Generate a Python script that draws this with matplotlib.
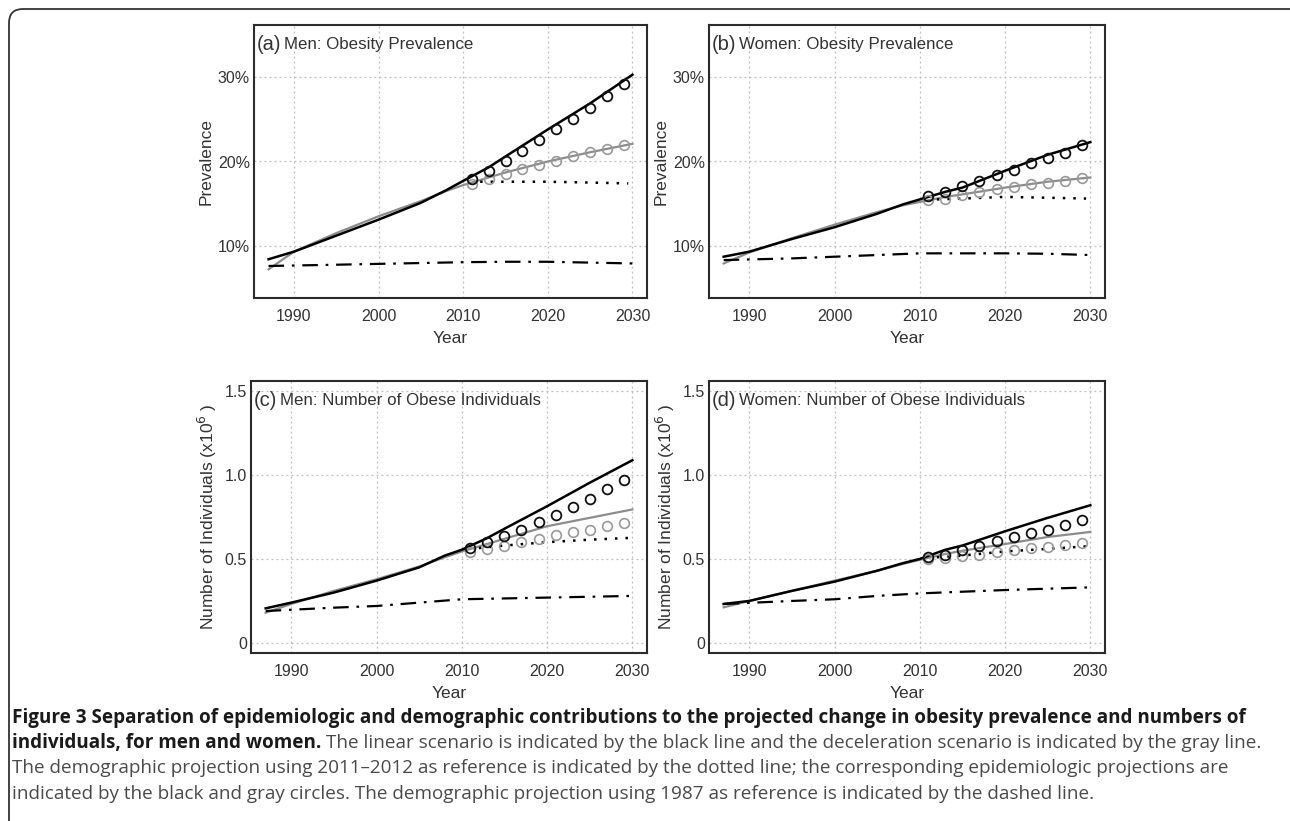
import matplotlib
matplotlib.use("Agg")
import matplotlib.pyplot as plt
from matplotlib.patches import FancyBboxPatch
from matplotlib.transforms import IdentityTransform
from matplotlib.ticker import FixedLocator, FuncFormatter

plt.rcParams['font.family'] = ['Liberation Sans', 'DejaVu Sans']

# ---- data ----
line_years = [1987, 1990, 1995, 2000, 2005, 2008, 2010, 2013, 2015, 2020, 2025, 2030]
circle_years = [2011, 2013, 2015, 2017, 2019, 2021, 2023, 2025, 2027, 2029]
dot_years = [2012, 2015, 2020, 2025, 2029.5]
dash_years = [1987, 1995, 2000, 2005, 2010, 2015, 2020, 2025, 2030]

# (a) men prevalence (%)
a_linear = [8.4, 9.3, 11.2, 13.1, 15.1, 16.6, 17.7, 19.3, 20.6, 23.8, 26.9, 30.3]
a_decel = [7.2, 9.3, 11.5, 13.5, 15.3, 16.5, 17.2, 18.1, 18.7, 20.0, 21.1, 22.1]
a_circ_lin = [17.9, 18.9, 20.0, 21.2, 22.5, 23.8, 25.0, 26.4, 27.8, 29.2]
a_circ_dec = [17.3, 17.9, 18.5, 19.1, 19.6, 20.1, 20.6, 21.1, 21.5, 22.0]
a_dotted = [17.6, 17.6, 17.6, 17.5, 17.4]
a_dashed = [7.6, 7.75, 7.85, 7.95, 8.05, 8.1, 8.1, 8.0, 7.9]

# (b) women prevalence (%)
b_linear = [8.7, 9.3, 10.8, 12.2, 13.8, 14.9, 15.5, 16.4, 16.9, 18.9, 20.8, 22.3]
b_decel = [7.9, 9.2, 10.9, 12.5, 14.0, 14.8, 15.2, 15.8, 16.1, 16.9, 17.6, 18.1]
b_circ_lin = [15.9, 16.4, 17.1, 17.7, 18.4, 19.0, 19.8, 20.4, 21.0, 21.9]
b_circ_dec = [15.4, 15.6, 16.0, 16.4, 16.7, 17.0, 17.3, 17.5, 17.7, 18.0]
b_dotted = [15.5, 15.6, 15.8, 15.7, 15.6]
b_dashed = [8.3, 8.5, 8.7, 8.9, 9.1, 9.1, 9.1, 9.05, 8.9]

# (c) men number of obese individuals (x10^6)
c_linear = [0.206, 0.24, 0.30, 0.371, 0.45, 0.52, 0.555, 0.625, 0.68, 0.814, 0.954, 1.088]
c_decel = [0.18, 0.232, 0.31, 0.379, 0.455, 0.51, 0.545, 0.59, 0.62, 0.695, 0.745, 0.795]
c_circ_lin = [0.565, 0.60, 0.635, 0.675, 0.72, 0.76, 0.812, 0.86, 0.914, 0.968]
c_circ_dec = [0.539, 0.561, 0.579, 0.599, 0.619, 0.641, 0.659, 0.675, 0.695, 0.713]
c_dotted = [0.565, 0.58, 0.60, 0.615, 0.625]
c_dashed = [0.19, 0.21, 0.22, 0.24, 0.26, 0.265, 0.27, 0.275, 0.28]

# (d) women number of obese individuals (x10^6)
d_linear = [0.232, 0.25, 0.31, 0.365, 0.43, 0.475, 0.50, 0.555, 0.58, 0.665, 0.745, 0.82]
d_decel = [0.212, 0.25, 0.31, 0.371, 0.43, 0.47, 0.495, 0.53, 0.549, 0.589, 0.631, 0.661]
d_circ_lin = [0.511, 0.525, 0.555, 0.579, 0.605, 0.629, 0.655, 0.675, 0.705, 0.731]
d_circ_dec = [0.499, 0.505, 0.519, 0.525, 0.539, 0.555, 0.565, 0.571, 0.585, 0.595]
d_dotted = [0.51, 0.52, 0.545, 0.56, 0.575]
d_dashed = [0.232, 0.25, 0.26, 0.28, 0.295, 0.305, 0.315, 0.323, 0.331]

panels = [
    ("(a)", "Men: Obesity Prevalence", a_linear, a_decel, a_circ_lin, a_circ_dec, a_dotted, a_dashed),
    ("(b)", "Women: Obesity Prevalence", b_linear, b_decel, b_circ_lin, b_circ_dec, b_dotted, b_dashed),
    ("(c)", "Men: Number of Obese Individuals", c_linear, c_decel, c_circ_lin, c_circ_dec, c_dotted, c_dashed),
    ("(d)", "Women: Number of Obese Individuals", d_linear, d_decel, d_circ_lin, d_circ_dec, d_dotted, d_dashed),
]

# axes boxes in pixels (left, top, right, bottom)
W, H = 1290, 821
boxes = [(254, 25, 647, 298), (709, 25, 1105, 298),
         (251, 381, 647, 653), (709, 381, 1105, 653)]

fig = plt.figure(figsize=(W / 100, H / 100), dpi=100)
fig.patch.set_facecolor('white')

txt = '#333333'
gray = '#8c8c8c'

for i, (box, p) in enumerate(zip(boxes, panels)):
    l, t, r, b = box
    ax = fig.add_axes([l / W, 1 - b / H, (r - l) / W, (b - t) / H])
    tag, title, lin, dec, clin, cdec, dotv, dashv = p

    ax.plot(line_years, dec, color=gray, lw=1.6, zorder=3)
    ax.plot(line_years, lin, color='black', lw=1.8, zorder=4)
    ax.plot(dot_years, dotv, color='black', lw=1.8, linestyle=(0, (1.0, 3.2)), zorder=3)
    ax.plot(dash_years, dashv, color='black', lw=1.6, linestyle=(0, (7, 3.5, 1.2, 3.5)), zorder=3)
    ax.plot(circle_years, cdec, linestyle='none', marker='o', ms=7, mfc='none',
            mec='#999999', mew=1.2, zorder=5)
    ax.plot(circle_years, clin, linestyle='none', marker='o', ms=7, mfc='none',
            mec='#111111', mew=1.3, zorder=6)

    ax.set_xlim(1985.28, 2031.72)
    ax.xaxis.set_major_locator(FixedLocator([1990, 2000, 2010, 2020, 2030]))
    if i < 2:
        ax.set_ylim(3.8, 36.2)
        ax.yaxis.set_major_locator(FixedLocator([10, 20, 30]))
        ax.yaxis.set_major_formatter(FuncFormatter(lambda v, pos: f"{int(v)}%"))
        ax.set_ylabel("Prevalence", fontsize=12.5, color=txt, labelpad=3)
    else:
        ax.set_ylim(-0.06, 1.56)
        ax.yaxis.set_major_locator(FixedLocator([0, 0.5, 1.0, 1.5]))
        ax.yaxis.set_major_formatter(FuncFormatter(lambda v, pos: "0" if v == 0 else f"{v:.1f}"))
        ax.set_ylabel(r"Number of Individuals (x10$^{6}$ )", fontsize=12.5, color=txt, labelpad=4)
    ax.set_xlabel("Year", fontsize=12.5, color=txt, labelpad=5)

    ax.grid(True, color='#bdbdbd', linestyle=(0, (1.5, 2.5)), lw=0.9)
    ax.set_axisbelow(True)
    ax.tick_params(length=0, labelsize=11.5, labelcolor=txt)
    ax.tick_params(axis='x', pad=8)
    ax.tick_params(axis='y', pad=3)
    for s in ax.spines.values():
        s.set_color('#2b2b2b')
        s.set_linewidth(1.5)

    lab = ax.text(0.008, 0.93, tag, transform=ax.transAxes, fontsize=14.5,
                  color=txt, va='center', ha='left')
    ax.annotate(title, xy=(1, 0.5), xycoords=lab, xytext=(1.5, 0),
                textcoords='offset points', va='center', ha='left',
                fontsize=12.2, color=txt)

# outer rounded frame
frame = FancyBboxPatch((9, -30), 1310, H - 9 + 30,
                       boxstyle="round,pad=0,rounding_size=14",
                       transform=IdentityTransform(), fill=False,
                       ec='#333333', lw=1.3)
fig.add_artist(frame)

# caption
cap_font = ['Open Sans', 'DejaVu Sans']
cap_size = 13.6
cap_x = 12 / W
ys = [718, 743, 768, 794]
bold_col = '#1a1a1a'
reg_col = '#4a4a4a'

fig.text(cap_x, 1 - ys[0] / H,
         "Figure 3 Separation of epidemiologic and demographic contributions to the projected change in obesity prevalence and numbers of",
         family=cap_font, fontsize=cap_size, weight='bold', color=bold_col, va='center')
b2 = fig.text(cap_x, 1 - ys[1] / H, "individuals, for men and women.",
              family=cap_font, fontsize=cap_size, weight='bold', color=bold_col, va='center')
fig.canvas.draw()
ext = b2.get_window_extent(renderer=fig.canvas.get_renderer())
fig.text((ext.x1 + 5) / W, 1 - ys[1] / H,
         "The linear scenario is indicated by the black line and the deceleration scenario is indicated by the gray line.",
         family=cap_font, fontsize=cap_size, color=reg_col, va='center')
fig.text(cap_x, 1 - ys[2] / H,
         "The demographic projection using 2011\u20132012 as reference is indicated by the dotted line; the corresponding epidemiologic projections are",
         family=cap_font, fontsize=cap_size, color=reg_col, va='center')
fig.text(cap_x, 1 - ys[3] / H,
         "indicated by the black and gray circles. The demographic projection using 1987 as reference is indicated by the dashed line.",
         family=cap_font, fontsize=cap_size, color=reg_col, va='center')

fig.savefig("out.png", dpi=100)
